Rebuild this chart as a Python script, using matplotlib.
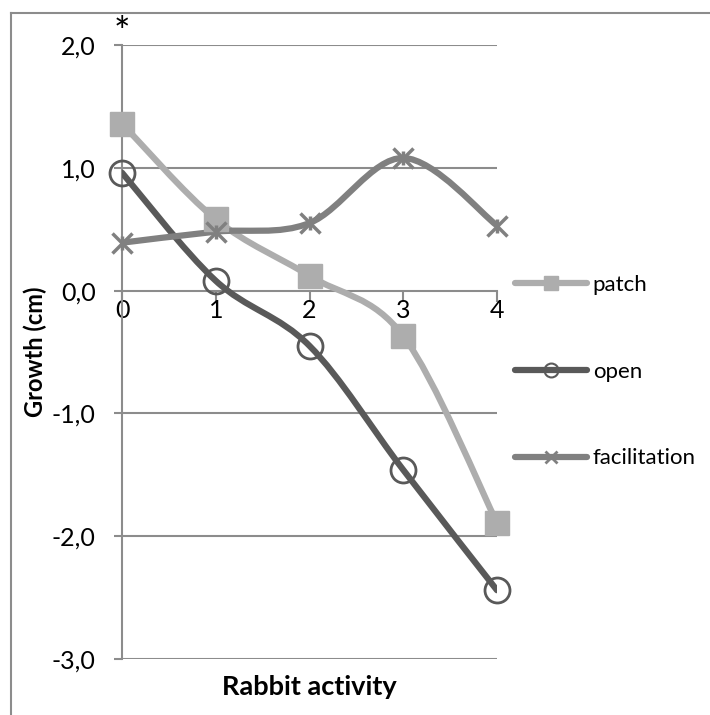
import matplotlib
matplotlib.use("Agg")
import matplotlib.pyplot as plt
from matplotlib.path import Path
from matplotlib.patches import PathPatch
from matplotlib.lines import Line2D

plt.rcParams["font.family"] = ["Lato", "DejaVu Sans"]

# data
activity = [0, 1, 2, 3, 4]
patch = [1.36, 0.58, 0.12, -0.37, -1.89]
open_ = [0.96, 0.08, -0.45, -1.46, -2.44]
facilitation = [0.39, 0.48, 0.55, 1.08, 0.53]
yticks = [-3, -2, -1, 0, 1, 2]
ytick_labels = ["-3,0", "-2,0", "-1,0", "0,0", "1,0", "2,0"]

GRID = "#8c8c8c"
C_PATCH = "#adadad"
C_OPEN = "#595959"
C_FAC = "#808080"


def smooth_path(xs, ys):
    # Excel-like smoothed line: cubic bezier segments through the points
    pts = list(zip(xs, ys))
    n = len(pts)
    verts = [pts[0]]
    codes = [Path.MOVETO]
    for i in range(n - 1):
        p0 = pts[i - 1] if i > 0 else pts[i]
        p1 = pts[i]
        p2 = pts[i + 1]
        p3 = pts[i + 2] if i + 2 < n else pts[i + 1]
        c1 = (p1[0] + (p2[0] - p0[0]) / 6, p1[1] + (p2[1] - p0[1]) / 6)
        c2 = (p2[0] - (p3[0] - p1[0]) / 6, p2[1] - (p3[1] - p1[1]) / 6)
        verts += [c1, c2, p2]
        codes += [Path.CURVE4] * 3
    return Path(verts, codes)


fig = plt.figure(figsize=(7.1, 7.15), dpi=100)
ax = fig.add_axes([122 / 710, 1 - 659 / 715, 375 / 710, 614 / 715])
ax.set_xlim(0, 4)
ax.set_ylim(-3, 2)

for y in yticks:
    if y != 0:
        ax.axhline(y, color=GRID, lw=1.5, zorder=1)

for sp in ["top", "right"]:
    ax.spines[sp].set_visible(False)
ax.spines["left"].set_color(GRID)
ax.spines["left"].set_linewidth(1.5)
ax.spines["bottom"].set_position(("data", 0))
ax.spines["bottom"].set_color(GRID)
ax.spines["bottom"].set_linewidth(1.5)

ax.set_xticks(activity)
ax.set_xticklabels([str(a) for a in activity], fontsize=18)
ax.set_yticks(yticks)
ax.set_yticklabels(ytick_labels, fontsize=18)
ax.tick_params(axis="x", direction="out", length=8, width=1.5, color=GRID, pad=-2)
ax.tick_params(axis="y", direction="out", length=6, width=1.5, color=GRID, pad=13)

# smoothed lines
for vals, col in [(patch, C_PATCH), (open_, C_OPEN), (facilitation, C_FAC)]:
    pp = PathPatch(smooth_path(activity, vals), fill=False, edgecolor=col,
                   lw=4.5, capstyle="round", zorder=3)
    ax.add_patch(pp)

ax.plot(activity, patch, ls="none", marker="s", ms=17, color=C_PATCH,
        zorder=4, clip_on=False)
ax.plot(activity, open_, ls="none", marker="o", ms=18, mfc="none",
        mec=C_OPEN, mew=2, zorder=4, clip_on=False)
ax.plot(activity, facilitation, ls="none", marker="x", ms=15, mec=C_FAC,
        mew=2.5, zorder=4, clip_on=False)
ax.plot(activity, facilitation, ls="none", marker="|", ms=10, mec=C_FAC,
        mew=2.5, zorder=4, clip_on=False)

ax.set_xlabel("Rabbit activity", fontsize=19.5, fontweight="bold", labelpad=0)
ax.xaxis.set_label_coords(0.5, -0.026)
ax.set_ylabel("Growth (cm)", fontsize=17, fontweight="bold")
ax.yaxis.set_label_coords(-0.2, 0.5)

ax.text(0, 2.09, "*", fontsize=28, ha="center", va="center", color="black")

handles = [
    Line2D([], [], color=C_PATCH, lw=4.5, marker="s", ms=10, solid_capstyle="round"),
    Line2D([], [], color=C_OPEN, lw=4.5, marker="o", ms=10, mfc="none",
           mec=C_OPEN, mew=1.5, solid_capstyle="round"),
    Line2D([], [], color=C_FAC, lw=4.5, marker="x", ms=9, mew=2,
           solid_capstyle="round"),
]
fig.legend(handles, ["patch", "open", "facilitation"], loc="upper left",
           bbox_to_anchor=(515 / 710, 1 - 275 / 715), frameon=False,
           fontsize=16, handlelength=3.25, handletextpad=0.25,
           labelspacing=3.0, borderpad=0, borderaxespad=0)

# outer chart border (top and left edges visible)
fig.add_artist(Line2D([11 / 710, 11 / 710], [0, 1 - 13 / 715], color=GRID, lw=1.5))
fig.add_artist(Line2D([11 / 710, 1], [1 - 13 / 715, 1 - 13 / 715], color=GRID, lw=1.5))

fig.savefig("out.png", dpi=100)
